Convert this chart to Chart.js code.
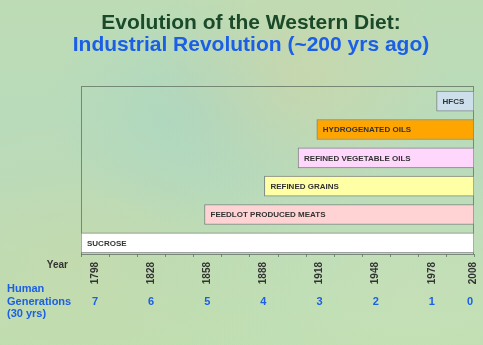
<!DOCTYPE html>
<html>
<head>
<meta charset="utf-8">
<script src="https://cdn.jsdelivr.net/npm/chart.js@4.4.1/dist/chart.umd.min.js"></script>
<style>
  html, body { margin: 0; padding: 0; }
  body {
    width: 483px;
    height: 345px;
    overflow: hidden;
    background:
      radial-gradient(ellipse at 62% 22%, rgba(208, 212, 165, 0.55), transparent 35%),
      radial-gradient(ellipse at 40% 32%, rgba(155, 208, 200, 0.4), transparent 35%),
      radial-gradient(ellipse at 15% 75%, rgba(205, 215, 165, 0.45), transparent 40%),
      radial-gradient(ellipse at 85% 85%, rgba(205, 225, 185, 0.5), transparent 40%),
      linear-gradient(180deg, #bddcb5 0%, #b8dbbc 50%, #bedfb2 100%);
  }
</style>
</head>
<body>
<canvas id="dietChart" width="483" height="345"></canvas>
<script>
// foods listed top row first, with the year each entered the diet
const foods = ['HFCS', 'HYDROGENATED OILS', 'REFINED VEGETABLE OILS', 'REFINED GRAINS', 'FEEDLOT PRODUCED MEATS', 'SUCROSE'];
const introduced = [1988, 1924, 1914, 1896, 1864, 1798];
const presentYear = 2008;
const foodColors = ['#cddfeb', '#ffa500', '#ffd6fc', '#ffffa6', '#ffd3d3', '#ffffff'];

const yearTicks = [1798, 1828, 1858, 1888, 1918, 1948, 1978, 2008];
const generations = ['7', '6', '5', '4', '3', '2', '1', '0'];

const titleLines = ['Evolution of the Western Diet:', 'Industrial Revolution (~200 yrs ago)'];

const BOLD = 'bold %spx "Liberation Sans", Arial, sans-serif';
const font = size => BOLD.replace('%s', size);

const timelineDecor = {
  id: 'timelineDecor',
  beforeDatasetsDraw(chart) {
    const { ctx, chartArea: a, scales } = chart;
    // the frame sits a little inside the category band so the
    // bottom bar rests on it
    const top = a.top - 1, bottom = a.bottom - 3;
    ctx.save();
    ctx.strokeStyle = 'rgba(95, 110, 95, 0.75)';
    ctx.lineWidth = 1;
    ctx.strokeRect(a.left + 0.5, top + 0.5, a.right - a.left - 1, bottom - top);
    // small tick every 15 years along the bottom edge
    for (let yr = yearTicks[0]; yr <= presentYear; yr += 15) {
      const x = Math.round(scales.x.getPixelForValue(yr)) + 0.5;
      ctx.beginPath();
      ctx.moveTo(x, bottom);
      ctx.lineTo(x, bottom + 3);
      ctx.stroke();
    }
    ctx.restore();
  },
  afterDatasetsDraw(chart) {
    const { ctx, chartArea: a, scales } = chart;
    ctx.save();

    // titles
    ctx.textAlign = 'center';
    ctx.textBaseline = 'alphabetic';
    ctx.font = font(21);
    ctx.fillStyle = '#1b4a2a';
    ctx.fillText(titleLines[0], 251, 29);
    ctx.fillStyle = '#1a5fe6';
    ctx.fillText(titleLines[1], 251, 51);

    // food names inside the bars
    const meta = chart.getDatasetMeta(0);
    ctx.font = font(8);
    ctx.fillStyle = '#333333';
    ctx.textAlign = 'left';
    ctx.textBaseline = 'middle';
    meta.data.forEach((bar, i) => {
      const left = Math.min(bar.x, bar.base);
      ctx.fillText(foods[i], left + 6, bar.y + 0.5);
    });

    // year row
    ctx.font = font(10);
    ctx.fillStyle = '#333333';
    ctx.textAlign = 'right';
    ctx.textBaseline = 'alphabetic';
    ctx.fillText('Year', 68, 268);
    yearTicks.forEach(yr => {
      const x = Math.min(scales.x.getPixelForValue(yr) + 14, a.right - 1);
      ctx.save();
      ctx.translate(x, 262);
      ctx.rotate(-Math.PI / 2);
      ctx.textAlign = 'right';
      ctx.textBaseline = 'middle';
      ctx.fillText(String(yr), 0, 0);
      ctx.restore();
    });

    // generations row
    ctx.font = font(11);
    ctx.fillStyle = '#1a5fe6';
    ctx.textAlign = 'left';
    ctx.fillText('Human', 7, 292);
    ctx.fillText('Generations', 7, 305);
    ctx.fillText('(30 yrs)', 7, 317);
    ctx.textAlign = 'center';
    yearTicks.forEach((yr, i) => {
      const x = Math.min(scales.x.getPixelForValue(yr) + 14, a.right - 4);
      ctx.fillText(generations[i], x, 305);
    });

    ctx.restore();
  }
};

new Chart(document.getElementById('dietChart'), {
  type: 'bar',
  data: {
    labels: foods,
    datasets: [{
      data: introduced.map(start => [start, presentYear]),
      backgroundColor: foodColors,
      borderColor: '#7d8580',
      borderWidth: 1,
      borderSkipped: false,
      barThickness: 20
    }]
  },
  options: {
    indexAxis: 'y',
    responsive: false,
    animation: false,
    devicePixelRatio: 1,
    layout: { padding: { left: 81, right: 9, top: 87, bottom: 88 } },
    scales: {
      x: { type: 'linear', min: yearTicks[0], max: presentYear, display: false },
      y: { display: false }
    },
    plugins: {
      legend: { display: false },
      tooltip: { enabled: false }
    }
  },
  plugins: [timelineDecor]
});
</script>
</body>
</html>
